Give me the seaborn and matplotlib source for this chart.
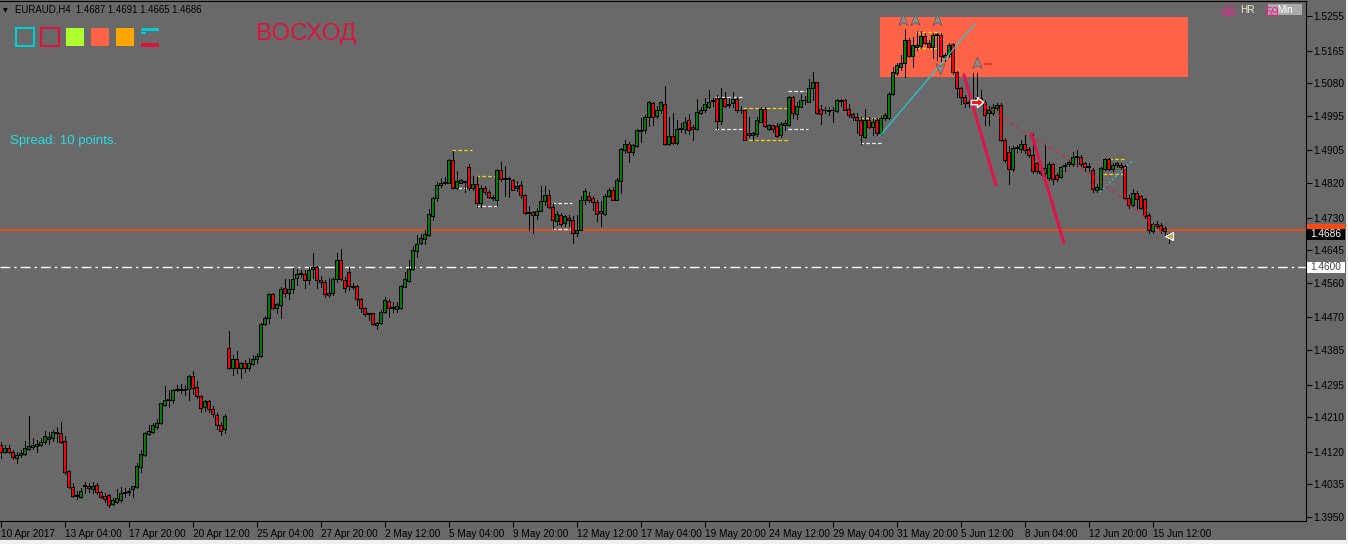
import numpy as np
import pandas as pd
import matplotlib
matplotlib.use("Agg")
import matplotlib.pyplot as plt
import matplotlib.transforms as mtransforms
from matplotlib.patches import Rectangle
from matplotlib.path import Path
import seaborn as sns

# EURAUD H4 candles (bar 0 = 10 Apr 2017 00:00)
opens = [
    1.4138, 1.4119, 1.4129, 1.4120, 1.4103, 1.4111, 1.4114, 1.4128, 1.4132, 1.4135,
    1.4138, 1.4146, 1.4154, 1.4155, 1.4168, 1.4170, 1.4148, 1.4070, 1.4027, 1.4008,
    1.4003, 1.4031, 1.4031, 1.4022, 1.4033, 1.4014, 1.4005, 1.4008, 1.3984, 1.3990,
    1.3994, 1.4012, 1.4015, 1.4022, 1.4027, 1.4081, 1.4112, 1.4166, 1.4172, 1.4185,
    1.4194, 1.4241, 1.4255, 1.4255, 1.4281, 1.4283, 1.4281, 1.4283, 1.4317, 1.4288,
    1.4265, 1.4236, 1.4251, 1.4231, 1.4216, 1.4190, 1.4178, 1.4390, 1.4339, 1.4362,
    1.4339, 1.4350, 1.4339, 1.4348, 1.4362, 1.4370, 1.4452, 1.4469, 1.4531, 1.4494,
    1.4501, 1.4546, 1.4533, 1.4543, 1.4572, 1.4582, 1.4582, 1.4567, 1.4595, 1.4602,
    1.4567, 1.4563, 1.4534, 1.4534, 1.4569, 1.4620, 1.4567, 1.4589, 1.4552, 1.4552,
    1.4517, 1.4494, 1.4481, 1.4481, 1.4449, 1.4456, 1.4485, 1.4513, 1.4494, 1.4493,
    1.4494, 1.4550, 1.4566, 1.4595, 1.4644, 1.4665, 1.4674, 1.4684, 1.4734, 1.4780,
    1.4815, 1.4821, 1.4821, 1.4880, 1.4806, 1.4821, 1.4825, 1.4862, 1.4806, 1.4818,
    1.4768, 1.4807, 1.4796, 1.4783, 1.4776, 1.4855, 1.4832, 1.4830, 1.4829, 1.4807,
    1.4816, 1.4790, 1.4744, 1.4744, 1.4737, 1.4748, 1.4772, 1.4789, 1.4757, 1.4720,
    1.4737, 1.4716, 1.4730, 1.4724, 1.4691, 1.4698, 1.4775, 1.4787, 1.4780, 1.4771,
    1.4746, 1.4740, 1.4787, 1.4802, 1.4776, 1.4826, 1.4907, 1.4922, 1.4900, 1.4917,
    1.4956, 1.4957, 1.4992, 1.5028, 1.4995, 1.5009, 1.5026, 1.4922, 1.4943, 1.4924,
    1.4961, 1.4961, 1.4983, 1.4967, 1.4961, 1.5002, 1.5009, 1.5018, 1.5033, 1.5041,
    1.4982, 1.5041, 1.5024, 1.5028, 1.5039, 1.5011, 1.5009, 1.4950, 1.4946, 1.4948,
    1.4980, 1.5012, 1.4960, 1.4970, 1.4969, 1.4945, 1.4972, 1.4972, 1.5044, 1.5000,
    1.5019, 1.5037, 1.5032, 1.5067, 1.5082, 1.5012, 1.5009, 1.5009, 1.5009, 1.5007,
    1.5035, 1.5037, 1.5012, 1.5000, 1.4993, 1.4985, 1.4941, 1.4985, 1.4967, 1.4985,
    1.4950, 1.4989, 1.4990, 1.5052, 1.5106, 1.5123, 1.5132, 1.5193, 1.5150, 1.5174,
    1.5176, 1.5202, 1.5186, 1.5174, 1.5206, 1.5206, 1.5148, 1.5156, 1.5182, 1.5110,
    1.5067, 1.5044, 1.5030, 1.5028, 1.5035, 1.5041, 1.5032, 1.5002, 1.5002, 1.5015,
    1.5024, 1.4933, 1.4900, 1.4856, 1.4911, 1.4908, 1.4922, 1.4908, 1.4894, 1.4872,
    1.4850, 1.4846, 1.4833, 1.4870, 1.4841, 1.4835, 1.4865, 1.4870, 1.4870, 1.4889,
    1.4889, 1.4872, 1.4865, 1.4853, 1.4802, 1.4804, 1.4856, 1.4882, 1.4856, 1.4868,
    1.4868, 1.4865, 1.4781, 1.4763, 1.4794, 1.4785, 1.4778, 1.4737, 1.4694, 1.4714,
    1.4711, 1.4703, 1.4687,
]
highs = [
    1.4146, 1.4138, 1.4138, 1.4125, 1.4120, 1.4125, 1.4149, 1.4213, 1.4155, 1.4151,
    1.4155, 1.4175, 1.4172, 1.4177, 1.4184, 1.4197, 1.4161, 1.4073, 1.4038, 1.4019,
    1.4025, 1.4042, 1.4038, 1.4042, 1.4038, 1.4019, 1.4012, 1.4010, 1.3999, 1.4022,
    1.4027, 1.4025, 1.4025, 1.4031, 1.4090, 1.4125, 1.4172, 1.4190, 1.4194, 1.4205,
    1.4248, 1.4290, 1.4281, 1.4283, 1.4294, 1.4297, 1.4294, 1.4320, 1.4330, 1.4303,
    1.4268, 1.4255, 1.4255, 1.4238, 1.4222, 1.4198, 1.4218, 1.4435, 1.4372, 1.4383,
    1.4355, 1.4359, 1.4363, 1.4372, 1.4377, 1.4455, 1.4474, 1.4534, 1.4533, 1.4508,
    1.4550, 1.4569, 1.4569, 1.4598, 1.4595, 1.4593, 1.4593, 1.4600, 1.4637, 1.4604,
    1.4578, 1.4567, 1.4572, 1.4576, 1.4637, 1.4647, 1.4576, 1.4600, 1.4559, 1.4554,
    1.4520, 1.4496, 1.4482, 1.4482, 1.4459, 1.4489, 1.4524, 1.4517, 1.4511, 1.4511,
    1.4554, 1.4589, 1.4620, 1.4656, 1.4685, 1.4687, 1.4698, 1.4751, 1.4784, 1.4823,
    1.4832, 1.4835, 1.4882, 1.4904, 1.4850, 1.4830, 1.4826, 1.4869, 1.4837, 1.4839,
    1.4816, 1.4811, 1.4801, 1.4789, 1.4856, 1.4876, 1.4865, 1.4835, 1.4830, 1.4824,
    1.4824, 1.4791, 1.4759, 1.4746, 1.4755, 1.4813, 1.4813, 1.4801, 1.4768, 1.4746,
    1.4742, 1.4737, 1.4737, 1.4735, 1.4737, 1.4787, 1.4804, 1.4796, 1.4785, 1.4776,
    1.4772, 1.4792, 1.4807, 1.4809, 1.4833, 1.4911, 1.4933, 1.4928, 1.4922, 1.4960,
    1.4989, 1.4998, 1.5033, 1.5031, 1.5021, 1.5033, 1.5072, 1.4993, 1.5002, 1.4985,
    1.4976, 1.4993, 1.5000, 1.4972, 1.5039, 1.5018, 1.5041, 1.5063, 1.5041, 1.5050,
    1.5067, 1.5058, 1.5041, 1.5056, 1.5044, 1.5021, 1.5012, 1.4993, 1.4954, 1.4993,
    1.5018, 1.5018, 1.4974, 1.4971, 1.4976, 1.4980, 1.4985, 1.5047, 1.5047, 1.5030,
    1.5052, 1.5047, 1.5090, 1.5108, 1.5084, 1.5024, 1.5018, 1.5019, 1.5019, 1.5038,
    1.5038, 1.5040, 1.5026, 1.5002, 1.5002, 1.4993, 1.5012, 1.4993, 1.4989, 1.4989,
    1.4995, 1.5002, 1.5056, 1.5123, 1.5132, 1.5154, 1.5221, 1.5197, 1.5200, 1.5215,
    1.5215, 1.5212, 1.5193, 1.5212, 1.5212, 1.5212, 1.5158, 1.5184, 1.5186, 1.5112,
    1.5071, 1.5048, 1.5037, 1.5106, 1.5106, 1.5063, 1.5037, 1.5021, 1.5025, 1.5028,
    1.5028, 1.4937, 1.4917, 1.4917, 1.4920, 1.4933, 1.4946, 1.4913, 1.4948, 1.4876,
    1.4859, 1.4920, 1.4876, 1.4872, 1.4846, 1.4865, 1.4872, 1.4881, 1.4900, 1.4907,
    1.4894, 1.4876, 1.4872, 1.4859, 1.4818, 1.4862, 1.4885, 1.4885, 1.4872, 1.4876,
    1.4872, 1.4868, 1.4789, 1.4804, 1.4798, 1.4789, 1.4781, 1.4742, 1.4717, 1.4720,
    1.4716, 1.4707, 1.4691,
]
lows = [
    1.4103, 1.4116, 1.4116, 1.4100, 1.4090, 1.4106, 1.4112, 1.4125, 1.4126, 1.4120,
    1.4135, 1.4140, 1.4140, 1.4149, 1.4146, 1.4142, 1.4062, 1.4025, 1.4001, 1.3996,
    1.3999, 1.4012, 1.4014, 1.4012, 1.4010, 1.3999, 1.3990, 1.3977, 1.3981, 1.3986,
    1.3990, 1.4003, 1.4008, 1.4003, 1.4025, 1.4068, 1.4109, 1.4164, 1.4168, 1.4178,
    1.4192, 1.4238, 1.4236, 1.4248, 1.4277, 1.4272, 1.4268, 1.4255, 1.4271, 1.4259,
    1.4224, 1.4227, 1.4224, 1.4211, 1.4178, 1.4164, 1.4168, 1.4336, 1.4320, 1.4324,
    1.4311, 1.4329, 1.4333, 1.4346, 1.4352, 1.4366, 1.4450, 1.4455, 1.4492, 1.4481,
    1.4468, 1.4524, 1.4517, 1.4533, 1.4554, 1.4574, 1.4546, 1.4557, 1.4572, 1.4546,
    1.4550, 1.4522, 1.4524, 1.4528, 1.4563, 1.4567, 1.4537, 1.4541, 1.4543, 1.4501,
    1.4485, 1.4474, 1.4463, 1.4450, 1.4439, 1.4453, 1.4481, 1.4472, 1.4485, 1.4485,
    1.4493, 1.4550, 1.4561, 1.4593, 1.4628, 1.4661, 1.4661, 1.4682, 1.4724, 1.4774,
    1.4809, 1.4817, 1.4819, 1.4804, 1.4804, 1.4819, 1.4797, 1.4801, 1.4801, 1.4757,
    1.4757, 1.4792, 1.4781, 1.4776, 1.4759, 1.4824, 1.4785, 1.4783, 1.4801, 1.4798,
    1.4781, 1.4740, 1.4698, 1.4691, 1.4726, 1.4746, 1.4763, 1.4755, 1.4700, 1.4711,
    1.4707, 1.4707, 1.4707, 1.4665, 1.4681, 1.4697, 1.4765, 1.4770, 1.4750, 1.4720,
    1.4709, 1.4737, 1.4783, 1.4775, 1.4775, 1.4794, 1.4898, 1.4874, 1.4894, 1.4915,
    1.4928, 1.4950, 1.4969, 1.4972, 1.4989, 1.5002, 1.4920, 1.4920, 1.4922, 1.4922,
    1.4954, 1.4950, 1.4948, 1.4933, 1.4959, 1.5000, 1.5004, 1.5015, 1.5021, 1.4960,
    1.4974, 1.5018, 1.5018, 1.5019, 1.5004, 1.5002, 1.4931, 1.4941, 1.4933, 1.4943,
    1.4978, 1.4965, 1.4959, 1.4954, 1.4941, 1.4941, 1.4959, 1.4969, 1.4989, 1.4987,
    1.5017, 1.5026, 1.5030, 1.5037, 1.5000, 1.4974, 1.5002, 1.4998, 1.4980, 1.5004,
    1.5021, 1.5009, 1.4992, 1.4983, 1.4950, 1.4922, 1.4937, 1.4963, 1.4946, 1.4946,
    1.4946, 1.4985, 1.4987, 1.5050, 1.5102, 1.5115, 1.5096, 1.5148, 1.5122, 1.5167,
    1.5171, 1.5182, 1.5171, 1.5145, 1.5141, 1.5139, 1.5137, 1.5148, 1.5104, 1.5044,
    1.5026, 1.5019, 1.5019, 1.5019, 1.5030, 1.5028, 1.4972, 1.4972, 1.4998, 1.5011,
    1.4929, 1.4876, 1.4818, 1.4850, 1.4902, 1.4902, 1.4898, 1.4889, 1.4846, 1.4846,
    1.4841, 1.4837, 1.4829, 1.4818, 1.4824, 1.4833, 1.4850, 1.4865, 1.4865, 1.4865,
    1.4865, 1.4850, 1.4850, 1.4796, 1.4796, 1.4802, 1.4853, 1.4853, 1.4850, 1.4861,
    1.4857, 1.4778, 1.4755, 1.4759, 1.4752, 1.4752, 1.4729, 1.4691, 1.4690, 1.4703,
    1.4691, 1.4685, 1.4665,
]
closes = [
    1.4120, 1.4129, 1.4120, 1.4106, 1.4112, 1.4118, 1.4129, 1.4135, 1.4138, 1.4140,
    1.4146, 1.4161, 1.4159, 1.4171, 1.4171, 1.4146, 1.4066, 1.4027, 1.4005, 1.4005,
    1.4019, 1.4034, 1.4025, 1.4031, 1.4015, 1.4003, 1.3996, 1.3981, 1.3993, 1.3999,
    1.4012, 1.4015, 1.4018, 1.4031, 1.4083, 1.4114, 1.4170, 1.4175, 1.4190, 1.4196,
    1.4246, 1.4255, 1.4257, 1.4281, 1.4283, 1.4281, 1.4283, 1.4317, 1.4285, 1.4264,
    1.4233, 1.4251, 1.4231, 1.4218, 1.4190, 1.4175, 1.4213, 1.4337, 1.4362, 1.4339,
    1.4350, 1.4339, 1.4350, 1.4362, 1.4370, 1.4452, 1.4468, 1.4531, 1.4494, 1.4504,
    1.4543, 1.4533, 1.4544, 1.4569, 1.4582, 1.4585, 1.4567, 1.4593, 1.4600, 1.4567,
    1.4563, 1.4531, 1.4528, 1.4569, 1.4620, 1.4569, 1.4546, 1.4552, 1.4550, 1.4517,
    1.4494, 1.4478, 1.4478, 1.4452, 1.4456, 1.4485, 1.4515, 1.4494, 1.4498, 1.4500,
    1.4552, 1.4569, 1.4595, 1.4646, 1.4661, 1.4676, 1.4686, 1.4739, 1.4780, 1.4815,
    1.4821, 1.4823, 1.4880, 1.4806, 1.4826, 1.4828, 1.4823, 1.4807, 1.4818, 1.4768,
    1.4807, 1.4796, 1.4783, 1.4780, 1.4855, 1.4830, 1.4830, 1.4832, 1.4802, 1.4813,
    1.4790, 1.4742, 1.4742, 1.4737, 1.4748, 1.4774, 1.4789, 1.4757, 1.4724, 1.4740,
    1.4714, 1.4733, 1.4723, 1.4690, 1.4698, 1.4776, 1.4800, 1.4776, 1.4770, 1.4739,
    1.4742, 1.4787, 1.4802, 1.4776, 1.4829, 1.4909, 1.4922, 1.4900, 1.4920, 1.4957,
    1.4959, 1.4993, 1.5031, 1.4993, 1.5011, 1.5030, 1.4922, 1.4943, 1.4924, 1.4961,
    1.4963, 1.4980, 1.4959, 1.4961, 1.5004, 1.5011, 1.5025, 1.5032, 1.5035, 1.4982,
    1.5041, 1.5021, 1.5026, 1.5039, 1.5011, 1.5009, 1.4933, 1.4946, 1.4950, 1.4983,
    1.5012, 1.4969, 1.4970, 1.4960, 1.4943, 1.4974, 1.4976, 1.5044, 1.5002, 1.5021,
    1.5037, 1.5035, 1.5067, 1.5084, 1.5002, 1.5000, 1.5011, 1.5007, 1.5011, 1.5035,
    1.5033, 1.5011, 1.4998, 1.4992, 1.4983, 1.4946, 1.4985, 1.4967, 1.4980, 1.4950,
    1.4989, 1.4998, 1.5052, 1.5108, 1.5128, 1.5132, 1.5193, 1.5151, 1.5180, 1.5180,
    1.5202, 1.5186, 1.5174, 1.5206, 1.5208, 1.5150, 1.5154, 1.5180, 1.5108, 1.5067,
    1.5044, 1.5028, 1.5028, 1.5035, 1.5041, 1.5032, 1.4998, 1.5009, 1.5019, 1.5024,
    1.4933, 1.4881, 1.4856, 1.4911, 1.4913, 1.4922, 1.4907, 1.4894, 1.4850, 1.4850,
    1.4846, 1.4859, 1.4870, 1.4830, 1.4830, 1.4863, 1.4868, 1.4876, 1.4889, 1.4891,
    1.4870, 1.4863, 1.4862, 1.4804, 1.4809, 1.4859, 1.4882, 1.4856, 1.4868, 1.4872,
    1.4862, 1.4781, 1.4763, 1.4794, 1.4778, 1.4755, 1.4733, 1.4697, 1.4714, 1.4709,
    1.4698, 1.4694, 1.4686,
]

tick_bars = [0, 16, 32, 48, 64, 80, 96, 112, 128, 144, 160, 176, 192, 208, 224, 240, 256, 272, 288]
tick_labels = ["10 Apr 2017", "13 Apr 04:00", "17 Apr 20:00", "20 Apr 12:00", "25 Apr 04:00",
               "27 Apr 20:00", "2 May 12:00", "5 May 04:00", "9 May 20:00", "12 May 12:00",
               "17 May 04:00", "19 May 20:00", "24 May 12:00", "29 May 04:00", "31 May 20:00",
               "5 Jun 12:00", "8 Jun 04:00", "12 Jun 20:00", "15 Jun 12:00"]
price_ticks = [1.5255, 1.5165, 1.5080, 1.4995, 1.4905, 1.4820, 1.4730, 1.4645,
               1.4560, 1.4470, 1.4385, 1.4295, 1.4210, 1.4120, 1.4035, 1.3950]

# objects drawn on the chart
zone_bars = [219.8, 296.8]
zone_prices = [1.5096, 1.5253]
level_orange = 1.4698
level_white = 1.4600
box_left = [112.8, 118.8, 137.8, 178.6, 185.6, 196.8, 214.8, 228.8, 275.6]
box_right = [117.8, 124.1, 142.8, 185.6, 196.8, 201.8, 220.3, 234.8, 281.1]
box_high = [1.4906, 1.4838, 1.4768, 1.5044, 1.5015, 1.5060, 1.4989, 1.5213, 1.4882]
box_low = [1.4807, 1.4760, 1.4700, 1.4961, 1.4932, 1.4961, 1.4924, 1.5172, 1.4843]
box_high_col = ["#FFD700", "#FFD700", "#F0F0F0", "#F0F0F0", "#FFD700", "#F0F0F0", "#FFD700", "#FFD700", "#FFD700"]
box_low_col = ["#F0F0F0", "#F0F0F0", "#F0F0F0", "#F0F0F0", "#FFD700", "#F0F0F0", "#F0F0F0", "#FFD700", "#FFD700"]
cyan_x = [219.8, 243.6]
cyan_y = [1.4943, 1.5235]
cyan2_x = [274.8, 283.1]
cyan2_y = [1.4797, 1.4880]
red1_x = [240.8, 248.8]
red1_y = [1.5102, 1.4815]
red2_x = [257.7, 265.8]
red2_y = [1.4948, 1.4664]
dash_x = [244.4, 255.7, 267.3, 279.0, 290.7]
dash_y = [1.5032, 1.4954, 1.4880, 1.4793, 1.4689]
up_arrow_x = [225.6, 228.6, 234.1, 244.1]
up_arrow_y = [1.5245, 1.5245, 1.5245, 1.5133]
down_arrow_x = [234.8]
down_arrow_y = [1.5120]

W, H = 1348, 544
BG = "#696969"

sns.set_style("ticks")
plt.rcParams["font.family"] = ["Liberation Sans", "DejaVu Sans"]
plt.rcParams["lines.scale_dashes"] = False

df = pd.DataFrame({"open": opens, "high": highs, "low": lows, "close": closes})
df["bar"] = np.arange(len(df))
df["up"] = df["close"] >= df["open"]

fig = plt.figure(figsize=(W / 100, H / 100), dpi=100, facecolor=BG)
ax = fig.add_axes([0, 23 / H, 1306 / W, 520 / H], facecolor=BG)


def fx(x):
    return x / W


def fy(y):
    return 1 - y / H


# supply zone behind the candles
ax.add_patch(Rectangle((zone_bars[0], zone_prices[0]), zone_bars[1] - zone_bars[0],
                       zone_prices[1] - zone_prices[0], color="#FF6347", lw=0, zorder=1))

# horizontal levels
ax.axhline(level_orange, color="#FF4A10", lw=1.2, zorder=2)
ax.axhline(level_white, color="white", lw=1.0, ls=(0, (7, 3, 1.6, 3)), zorder=2)

# consolidation boxes
for i in range(len(box_left)):
    ax.plot([box_left[i], box_right[i]], [box_high[i]] * 2, color=box_high_col[i], lw=0.9, ls=(0, (2.6, 1.6)), zorder=2)
    ax.plot([box_left[i], box_right[i]], [box_low[i]] * 2, color=box_low_col[i], lw=0.9, ls=(0, (2.6, 1.6)), zorder=2)

# candles: black wick, coloured body with black outline
ax.vlines(df["bar"], df["low"], df["high"], color="black", lw=0.72, zorder=3, antialiased=False)
ax.bar(df["bar"], df["close"] - df["open"], bottom=df["open"], width=0.78,
       color=np.where(df["up"], "#008000", "#FF0000"), edgecolor="black", linewidth=0.5,
       zorder=4, antialiased=False)
doji = df[(df["close"] - df["open"]).abs() < 0.00005]
ax.hlines(doji["open"], doji["bar"] - 0.39, doji["bar"] + 0.39, color="black", lw=0.72, zorder=5,
          antialiased=False)

# trend lines
sns.lineplot(x=cyan_x, y=cyan_y, ax=ax, color="#22C8D8", lw=0.9, zorder=6)
ax.plot(cyan2_x, cyan2_y, color="#22C8D8", lw=0.9, ls=(0, (1.5, 1.5)), zorder=6)
sns.lineplot(x=red1_x, y=red1_y, ax=ax, color="#E0144A", lw=2.2, zorder=6)
sns.lineplot(x=red2_x, y=red2_y, ax=ax, color="#E0144A", lw=2.2, zorder=6)
ax.plot(dash_x, dash_y, color="#E0203C", lw=0.9, ls=(0, (2.5, 3)), zorder=6)

# arrow markers
chev = Path([(0, 1), (0.75, -0.8), (0, -0.3), (-0.75, -0.8), (0, 1)],
            [Path.MOVETO, Path.LINETO, Path.LINETO, Path.LINETO, Path.CLOSEPOLY])
chev_dn = Path([(0, -1), (0.75, 0.8), (0, 0.3), (-0.75, 0.8), (0, -1)],
               [Path.MOVETO, Path.LINETO, Path.LINETO, Path.LINETO, Path.CLOSEPOLY])
ax.plot(up_arrow_x, up_arrow_y, ls="none", marker=chev, ms=9, mfc="#8E8E8E", mec="#5E5E5E", mew=0.6, zorder=7)
ax.plot(down_arrow_x, down_arrow_y, ls="none", marker=chev_dn, ms=9, mfc="#8E8E8E", mec="#5E5E5E", mew=0.6, zorder=7)
ax.plot([246.0, 247.8], [1.5130, 1.5130], color="#FF2020", lw=1.2, zorder=7)
arrow_r = Path([(-1, 0.35), (0, 0.35), (0, 0.8), (1, 0), (0, -0.8), (0, -0.35), (-1, -0.35), (-1, 0.35)],
               [Path.MOVETO] + [Path.LINETO] * 6 + [Path.CLOSEPOLY])
ax.plot([244.1], [1.5031], ls="none", marker=arrow_r, ms=9, mfc="#FF1010", mec="white", mew=1.0, zorder=8)
ax.plot([292.2], [1.4682], ls="none", marker="<", ms=5.5, mfc="#C8A048", mec="white", mew=0.9, zorder=8)

# axes look
ax.set_xlim(-0.175, 326.33)
ax.set_ylim(1.39396, 1.52941)
ax.set_xlabel("")
ax.set_ylabel("")
for side in ["top", "right", "bottom"]:
    ax.spines[side].set_color("black")
    ax.spines[side].set_linewidth(0.8)
ax.spines["left"].set_visible(False)
ax.yaxis.tick_right()
ax.set_yticks(price_ticks)
ax.set_yticklabels([f"{p:.4f}" for p in price_ticks])
ax.set_xticks(tick_bars)
ax.set_xticklabels(tick_labels, ha="left")
ax.tick_params(axis="y", direction="out", length=4, width=0.8, pad=1.5, labelsize=7.3, colors="black")
ax.tick_params(axis="x", direction="out", length=4, width=0.8, pad=2, labelsize=7.2, colors="black")
ax.grid(False)

# price labels on the right scale
blend = mtransforms.blended_transform_factory(fig.transFigure, ax.transData)
bh = 11 * 0.00026048
fig.add_artist(Rectangle((fx(1307), level_orange - bh / 2), fx(38), bh, transform=blend, color="#FF4A10", lw=0))
fig.add_artist(Rectangle((fx(1307), 1.4686 - bh / 2), fx(38), bh, transform=blend, color="black", lw=0))
fig.text(fx(1310), 1.4686, "1.4686", transform=blend, color="white", fontsize=7.3, va="center")
fig.add_artist(Rectangle((fx(1307), level_white - bh / 2), fx(38), bh, transform=blend, color="white", lw=0))
fig.text(fx(1310), level_white, "1.4600", transform=blend, color="#4A4A4A", fontsize=7.3, va="center")

# header and indicator text
fig.text(fx(3), fy(12), "▼", fontsize=4.5, color="black", family=["DejaVu Sans"])
fig.text(fx(15), fy(12.7), "EURAUD,H4  1.4687 1.4691 1.4665 1.4686", fontsize=6.9, color="black")
fig.text(fx(256), fy(40), "ВОСХОД", fontsize=17.5, color="#DC143C")
fig.text(fx(10), fy(144), "Spread: 10 points.", fontsize=9.5, color="#2ADCE6")

# colour swatches
fig.add_artist(Rectangle((fx(16), fy(46)), fx(18), 18 / H, transform=fig.transFigure, fill=False, ec="#00CED1", lw=1.5))
fig.add_artist(Rectangle((fx(41), fy(46)), fx(18), 18 / H, transform=fig.transFigure, fill=False, ec="#DC143C", lw=1.5))
fig.add_artist(Rectangle((fx(66), fy(46)), fx(18), 18 / H, transform=fig.transFigure, color="#ADFF2F", lw=0))
fig.add_artist(Rectangle((fx(91), fy(46)), fx(18), 18 / H, transform=fig.transFigure, color="#FF6347", lw=0))
fig.add_artist(Rectangle((fx(116), fy(46)), fx(18), 18 / H, transform=fig.transFigure, color="#FFA500", lw=0))
fig.add_artist(Rectangle((fx(141), fy(31)), fx(18), 3 / H, transform=fig.transFigure, color="#00CED1", lw=0))
fig.add_artist(Rectangle((fx(141), fy(34)), fx(5), 2 / H, transform=fig.transFigure, color="#00CED1", lw=0))
fig.add_artist(Rectangle((fx(141), fy(47)), fx(18), 3.5 / H, transform=fig.transFigure, color="#DC143C", lw=0))

# timer in the corner
fig.add_artist(Rectangle((fx(1268), fy(15)), fx(34), 11 / H, transform=fig.transFigure, color="#ABABAB", lw=0))
fig.text(fx(1285), fy(10), "Min", fontsize=7, color="white", ha="center", va="center")
fig.text(fx(1222), fy(16.5), "00", fontsize=9.5, color="#FF1493")
fig.text(fx(1240), fy(13), "HR", fontsize=7.2, color="#F2E8D0")
fig.text(fx(1264), fy(16.5), "59", fontsize=9.5, color="#FF1493")

# window edges
fig.add_artist(Rectangle((0, 0), 1, 4 / H, transform=fig.transFigure, color="#F0F0F0", lw=0))
fig.add_artist(Rectangle((fx(1346), 0), fx(2), 1, transform=fig.transFigure, color="#F0F0F0", lw=0))

fig.savefig("out.png", dpi=100, facecolor=BG)
